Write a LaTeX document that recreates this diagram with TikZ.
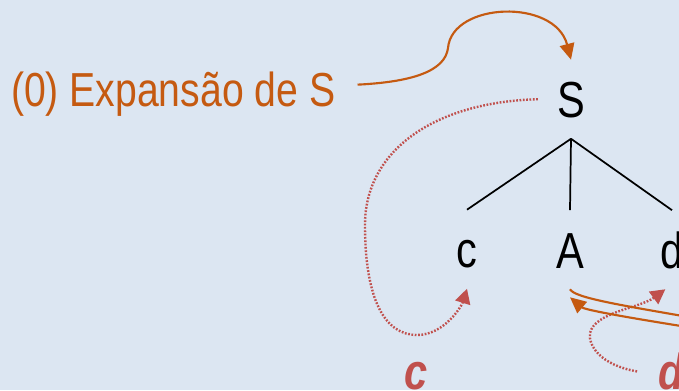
\documentclass[tikz,border=0pt]{standalone}
\usepackage{fontspec}
\setmainfont[FakeStretch=0.82]{Liberation Sans}
\usetikzlibrary{arrows.meta,calc}
\definecolor{trink}{HTML}{000000}
\definecolor{trorange}{HTML}{C55A11}
\definecolor{trred}{HTML}{C0504D}
\definecolor{trpale}{HTML}{DCE6F2}
\tikzset{
  tr node/.style={font=\fontsize{38}{40}\selectfont, text=trink, inner xsep=14.25pt,
    inner ysep=15.75pt, text height=27.4pt, text depth=0pt},
  tr title/.style={font=\fontsize{35.8}{40}\selectfont, text=trorange, inner sep=0pt},
  tr mark/.style={font=\fontsize{38}{40}\selectfont\bfseries\itshape, text=trred,
    inner xsep=15.75pt, inner ysep=0pt},
  tr edge/.style={draw=trink, line width=1.3pt},
  tr line/.style={draw=trorange, line width=1.6pt},
  tr arrow/.style={tr line, -{Triangle[length=12pt,width=11pt]}},
  tr dots/.style={-{Triangle[length=11pt,width=11.5pt]}, line width=1.8pt, draw=trred,
    dash pattern=on 1.3pt off 1.2pt}
}
\begin{document}
\begin{tikzpicture}[x=0.75pt, y=-0.75pt]
  \fill[trpale] (0,0) rectangle (679,390);
  \useasboundingbox (0,0) rectangle (679,390);
  \clip (0,0) rectangle (679,390);
  % derivation tree
  \node[tr node, anchor=base] (S) at (571,117.5) {S};
  \node[tr node, anchor=base] (c) at (467,267.5) {c};
  \node[tr node, anchor=base] (A) at (570,268) {A};
  \node[tr node, anchor=base] (d) at (672,268) {d};
  \foreach \n in {c,A,d} {\draw[tr edge] (S.south) -- (\n.north);}
  % labels
  \node[tr title, anchor=base west] (expand) at (10.8,106.7) {(0) Expansão de S};
  \node[tr mark, anchor=base] (cmark) at (416,389.5) {c};
  \node[tr mark, anchor=base] (dmark) at (671,389.5) {d};
  \coordinate (Aout) at (700,319);
  \coordinate (Ain) at (700,329);
  % arrows
  \draw[tr arrow] ($(expand.east)+(22,-9.7)$) .. controls (410,82) and (445,72) .. (448,48)
    .. controls (452,2) and (555,-2) .. (S.north);
  \draw[tr dots] (S.west) .. controls (435,102) and (365,150) .. (365,225)
    .. controls (365,300) and (385,335) .. (417,335) .. controls (445,335) and (462,305) .. (c.south);
  \draw[tr dots] (dmark.west) .. controls (600,365) and (588,345) .. (590,333)
    .. controls (595,312) and (640,308) .. ([xshift=-5pt]d.south);
  \draw[tr line] (A.south) .. controls (575,298) and (620,305) .. (Aout);
  \draw[tr arrow] (Ain) .. controls (630,318) and (585,310) .. ($(A.south)+(0,8)$);
\end{tikzpicture}
\end{document}
